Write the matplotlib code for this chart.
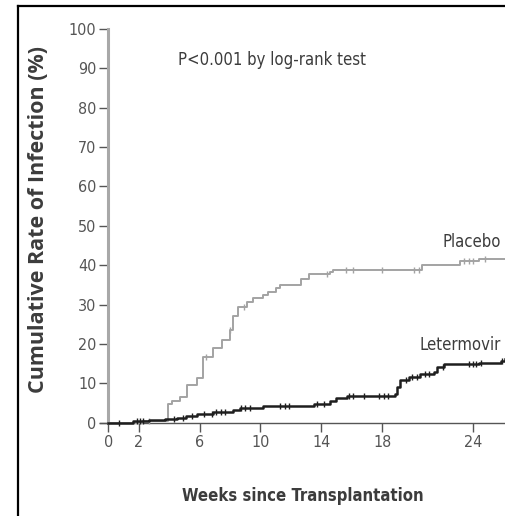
import matplotlib
matplotlib.use("Agg")
import matplotlib.pyplot as plt
from matplotlib.lines import Line2D
import numpy as np

# Kaplan-Meier style step data (weeks, cumulative %)
placebo_t = [0, 2.3, 3.9, 4.2, 4.7, 5.2, 5.8, 6.2, 6.9, 7.45, 8.0, 8.2, 8.5, 9.1, 9.5,
             10.2, 10.5, 11.0, 11.3, 12.7, 13.2, 14.6, 14.8, 20.6, 23.1, 24.4, 26.1]
placebo_v = [0, 0.4, 4.7, 5.5, 6.6, 9.6, 11.3, 16.8, 19.0, 21.0, 23.5, 27.0, 29.4, 30.7, 31.6,
             32.4, 33.3, 34.2, 35.0, 36.5, 37.8, 38.3, 38.8, 40.1, 41.0, 41.7, 41.7]
placebo_cens = [2.7, 6.4, 8.0, 8.9, 14.4, 15.6, 16.1, 18.0, 20.1, 20.4, 23.4, 23.7, 24.0, 24.8]

leter_t = [0, 1.6, 2.7, 3.7, 4.5, 5.1, 5.8, 6.9, 8.2, 8.65, 10.2, 13.5, 14.6, 15.0, 15.7,
           18.85, 19.0, 19.2, 19.8, 20.5, 21.4, 21.6, 22.1, 24.4, 25.8, 26.1]
leter_v = [0, 0.4, 0.7, 0.9, 1.3, 1.8, 2.3, 2.6, 3.3, 3.8, 4.3, 4.8, 5.6, 6.4, 6.7,
           7.2, 9.1, 10.8, 11.6, 12.3, 12.9, 14.2, 14.9, 15.2, 15.7, 16.3]
leter_cens = [0.7, 1.9, 2.1, 2.3, 4.3, 4.9, 5.5, 6.3, 6.8, 7.1, 7.4, 7.7, 8.7, 9.0, 9.3,
              11.3, 11.6, 11.9, 13.7, 14.2, 15.8, 16.1, 16.8, 17.8, 18.1, 18.4, 19.6,
              20.0, 20.3, 20.8, 21.1, 22.0, 23.7, 24.0, 24.2, 24.5, 25.9]

x_ticks = [0, 2, 6, 10, 14, 18, 24]
y_ticks = list(range(0, 101, 10))

TXT = "#3c3c3c"
cond = dict(family="DejaVu Sans", stretch="condensed")


def step_at(t, v, times):
    idx = np.searchsorted(t, times, side="right") - 1
    return np.asarray(v)[idx]


fig = plt.figure(figsize=(5.06, 5.16), dpi=100)
ax = fig.add_axes([100 / 506, 1 - 422.7 / 516, 406 / 506, (422.7 - 29) / 516])

ax.plot(placebo_t, placebo_v, drawstyle="steps-post", color="#a3a3a3", lw=1.4,
        clip_on=False, zorder=3)
ax.plot(placebo_cens, step_at(placebo_t, placebo_v, placebo_cens), ls="none",
        marker="|", ms=5, mew=1.0, color="#a3a3a3", clip_on=False, zorder=3)
ax.plot(leter_t, leter_v, drawstyle="steps-post", color="#1e1e1e", lw=1.8,
        clip_on=False, zorder=4)
ax.plot(leter_cens, step_at(leter_t, leter_v, leter_cens), ls="none",
        marker="|", ms=5, mew=1.0, color="#1e1e1e", clip_on=False, zorder=4)

ax.set_xlim(-0.55, 26.15)
ax.set_ylim(0, 100)
ax.spines["left"].set_position(("data", 0))
ax.spines["left"].set_color("#a8a8a8")
ax.spines["left"].set_linewidth(2.2)
ax.spines["bottom"].set_color("#555555")
ax.spines["bottom"].set_linewidth(1.0)
ax.spines["top"].set_visible(False)
ax.spines["right"].set_visible(False)

ax.set_xticks(x_ticks)
ax.set_yticks(y_ticks)
ax.tick_params(axis="both", direction="out", length=6.5, width=1.0, color="#555555",
               labelcolor="#555555", labelsize=11.5, pad=2)
for lab in ax.get_xticklabels() + ax.get_yticklabels():
    lab.set_family("DejaVu Sans")
    lab.set_stretch("condensed")

ax.set_xlabel("Weeks since Transplantation", fontsize=12, fontweight="bold",
              color=TXT, labelpad=27, **cond)
ax.set_ylabel("Cumulative Rate of Infection (%)", family="Open Sans", fontsize=15.5,
              fontweight="bold", color=TXT)
ax.yaxis.set_label_coords(-0.125, 0.517)

ax.text(4.6, 92, "P<0.001 by log-rank test", fontsize=12, color=TXT, va="center", **cond)
ax.text(25.8, 46, "Placebo", fontsize=12, color=TXT, ha="right", va="center", **cond)
ax.text(25.8, 19.8, "Letermovir", fontsize=12, color=TXT, ha="right", va="center", **cond)

# black frame on the left and top edges
fig.add_artist(Line2D([18.5 / 506, 18.5 / 506], [0, 1 - 6 / 516], color="black", lw=1.6))
fig.add_artist(Line2D([18 / 506, 1], [1 - 6 / 516, 1 - 6 / 516], color="black", lw=1.6))

fig.savefig("out.png", dpi=100)
